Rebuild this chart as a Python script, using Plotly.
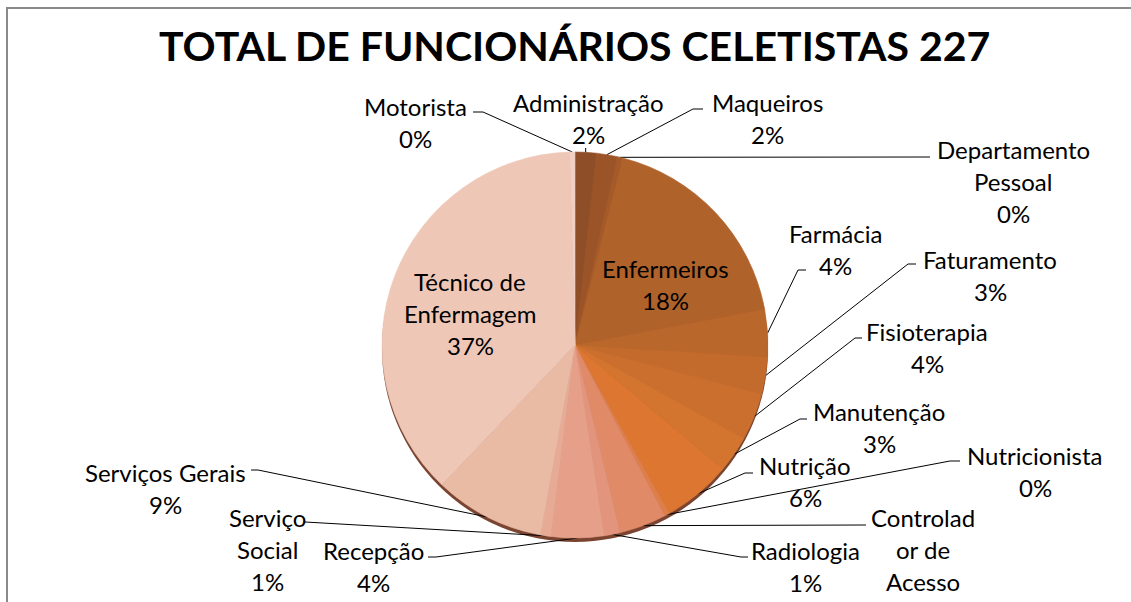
import math
import plotly.graph_objects as go

# ---------------- data ----------------
categories = ["Administração", "Maqueiros", "Departamento Pessoal", "Enfermeiros",
              "Farmácia", "Faturamento", "Fisioterapia", "Manutenção", "Nutrição",
              "Nutricionista", "Controlador de Acesso", "Radiologia", "Recepção",
              "Serviço Social", "Serviços Gerais", "Técnico de Enfermagem", "Motorista"]
values = [4, 4, 1, 41, 9, 7, 9, 7, 13, 1, 9, 3, 10, 2, 21, 85, 1]
display_lines = [["Administração"], ["Maqueiros"], ["Departamento", "Pessoal"], ["Enfermeiros"],
                 ["Farmácia"], ["Faturamento"], ["Fisioterapia"], ["Manutenção"], ["Nutrição"],
                 ["Nutricionista"], ["Controlad", "or de", "Acesso"], ["Radiologia"], ["Recepção"],
                 ["Serviço", "Social"], ["Serviços Gerais"], ["Técnico de", "Enfermagem"], ["Motorista"]]
show_percent = [True] * 10 + [False] + [True] * 6
title_text = "TOTAL DE FUNCIONÁRIOS CELETISTAS 227"

# ---------------- styling / layout ----------------
colors = ["#8E4E27", "#9B5428", "#A55A29", "#B0622B", "#BA672C", "#C36B2D", "#CA6F2E",
          "#D3742F", "#DC7631", "#DE7E48", "#E08A68", "#E2957C", "#E6A089", "#E7AA95",
          "#E9BAA4", "#EFC7B7", "#F1CFC2"]
W, H = 1131, 602
CX, CY, R = 575, 345, 193
FONT = "Lato, 'Open Sans', sans-serif"
LINE_H = 32

# label placement: text block centre, elbow point, stub end x, inside flag
label_pos = {
    "Administração": dict(t=(588, 118), elbow=None, stub=None, inside=False, vtick=148),
    "Maqueiros": dict(t=(767, 118), elbow=(693, 109), stub=703, inside=False),
    "Departamento Pessoal": dict(t=(1013, 181), elbow=(922, 157), stub=930, inside=False),
    "Enfermeiros": dict(t=(665, 284), elbow=None, stub=None, inside=True),
    "Farmácia": dict(t=(835, 249), elbow=(798, 270), stub=806, inside=False),
    "Faturamento": dict(t=(990, 275), elbow=(908, 264), stub=916, inside=False),
    "Fisioterapia": dict(t=(927, 347), elbow=(855, 338), stub=862, inside=False),
    "Manutenção": dict(t=(879, 427), elbow=(800, 419), stub=807, inside=False),
    "Nutrição": dict(t=(805, 481), elbow=(745, 473), stub=753, inside=False),
    "Nutricionista": dict(t=(1035, 471), elbow=(950, 461), stub=960, inside=False),
    "Controlador de Acesso": dict(t=(923, 549), elbow=(858, 525), stub=866, inside=False),
    "Radiologia": dict(t=(805, 566), elbow=(741, 557), stub=748, inside=False),
    "Recepção": dict(t=(373, 566), elbow=(436, 557), stub=428, inside=False),
    "Serviço Social": dict(t=(267, 549), elbow=(312, 522), stub=305, inside=False),
    "Serviços Gerais": dict(t=(165, 488), elbow=(258, 470), stub=251, inside=False),
    "Técnico de Enfermagem": dict(t=(470, 313), elbow=None, stub=None, inside=True),
    "Motorista": dict(t=(415, 122), elbow=(483, 112), stub=473, inside=False),
}

total = sum(values)

fig = go.Figure()

# pie
fig.add_trace(go.Pie(
    labels=categories, values=values, sort=False, direction="clockwise", rotation=0,
    marker=dict(colors=colors, line=dict(width=0.6, color=colors)),
    textinfo="none", hovertemplate="%{label}: %{value} (%{percent})<extra></extra>",
    showlegend=False,
    domain=dict(x=[(CX - R) / W, (CX + R) / W], y=[1 - (CY + R) / H, 1 - (CY - R) / H]),
))

# leader lines computed from slice mid-angles
lx, ly = [], []
cum = 0
for cat, v in zip(categories, values):
    mid = (cum + v / 2) / total * 2 * math.pi
    cum += v
    p = label_pos[cat]
    if p["inside"]:
        continue
    ex = CX + R * math.sin(mid)
    ey = CY - R * math.cos(mid)
    if p.get("vtick"):
        lx += [ex, ex, None]
        ly += [ey, p["vtick"], None]
        continue
    bx, by = p["elbow"]
    lx += [ex, bx, p["stub"], None]
    ly += [ey, by, by, None]

fig.add_trace(go.Scatter(x=lx, y=ly, mode="lines", line=dict(color="#000000", width=1),
                         hoverinfo="skip", showlegend=False))

# labels
annotations = []
for cat, v, lines, sp in zip(categories, values, display_lines, show_percent):
    p = label_pos[cat]
    txt = list(lines)
    if sp:
        txt.append(f"{round(v / total * 100)}%")
    tx, ty = p["t"]
    n = len(txt)
    for i, s in enumerate(txt):
        yy = ty + (i - (n - 1) / 2) * LINE_H
        annotations.append(dict(x=tx, y=yy, xref="x", yref="y", text=s, showarrow=False,
                                xanchor="center", yanchor="middle",
                                font=dict(family=FONT, size=24, color="#000000")))

annotations.append(dict(x=574, y=45, xref="x", yref="y", text=f"<b>{title_text}</b>",
                        showarrow=False, xanchor="center", yanchor="middle",
                        font=dict(family=FONT, size=41, color="#000000")))

fig.update_layout(
    width=W, height=H, margin=dict(l=0, r=0, t=0, b=0),
    paper_bgcolor="#ffffff", plot_bgcolor="rgba(0,0,0,0)",
    xaxis=dict(range=[0, W], visible=False, fixedrange=True),
    yaxis=dict(range=[H, 0], visible=False, fixedrange=True),
    annotations=annotations,
    shapes=[
        dict(type="circle", xref="x", yref="y", x0=CX - R, x1=CX + R, y0=CY - R + 4, y1=CY + R + 4,
             fillcolor="#7A4430", line=dict(width=0), layer="below"),
        dict(type="rect", xref="x", yref="y", x0=7, y0=8, x1=W + 20, y1=H + 20,
             line=dict(color="#8a8a8a", width=2), fillcolor="rgba(0,0,0,0)", layer="above"),
    ],
)

fig.write_html("out.html", config={"displayModeBar": False},
               post_script="document.body.style.margin='0';document.body.style.overflow='hidden';")
